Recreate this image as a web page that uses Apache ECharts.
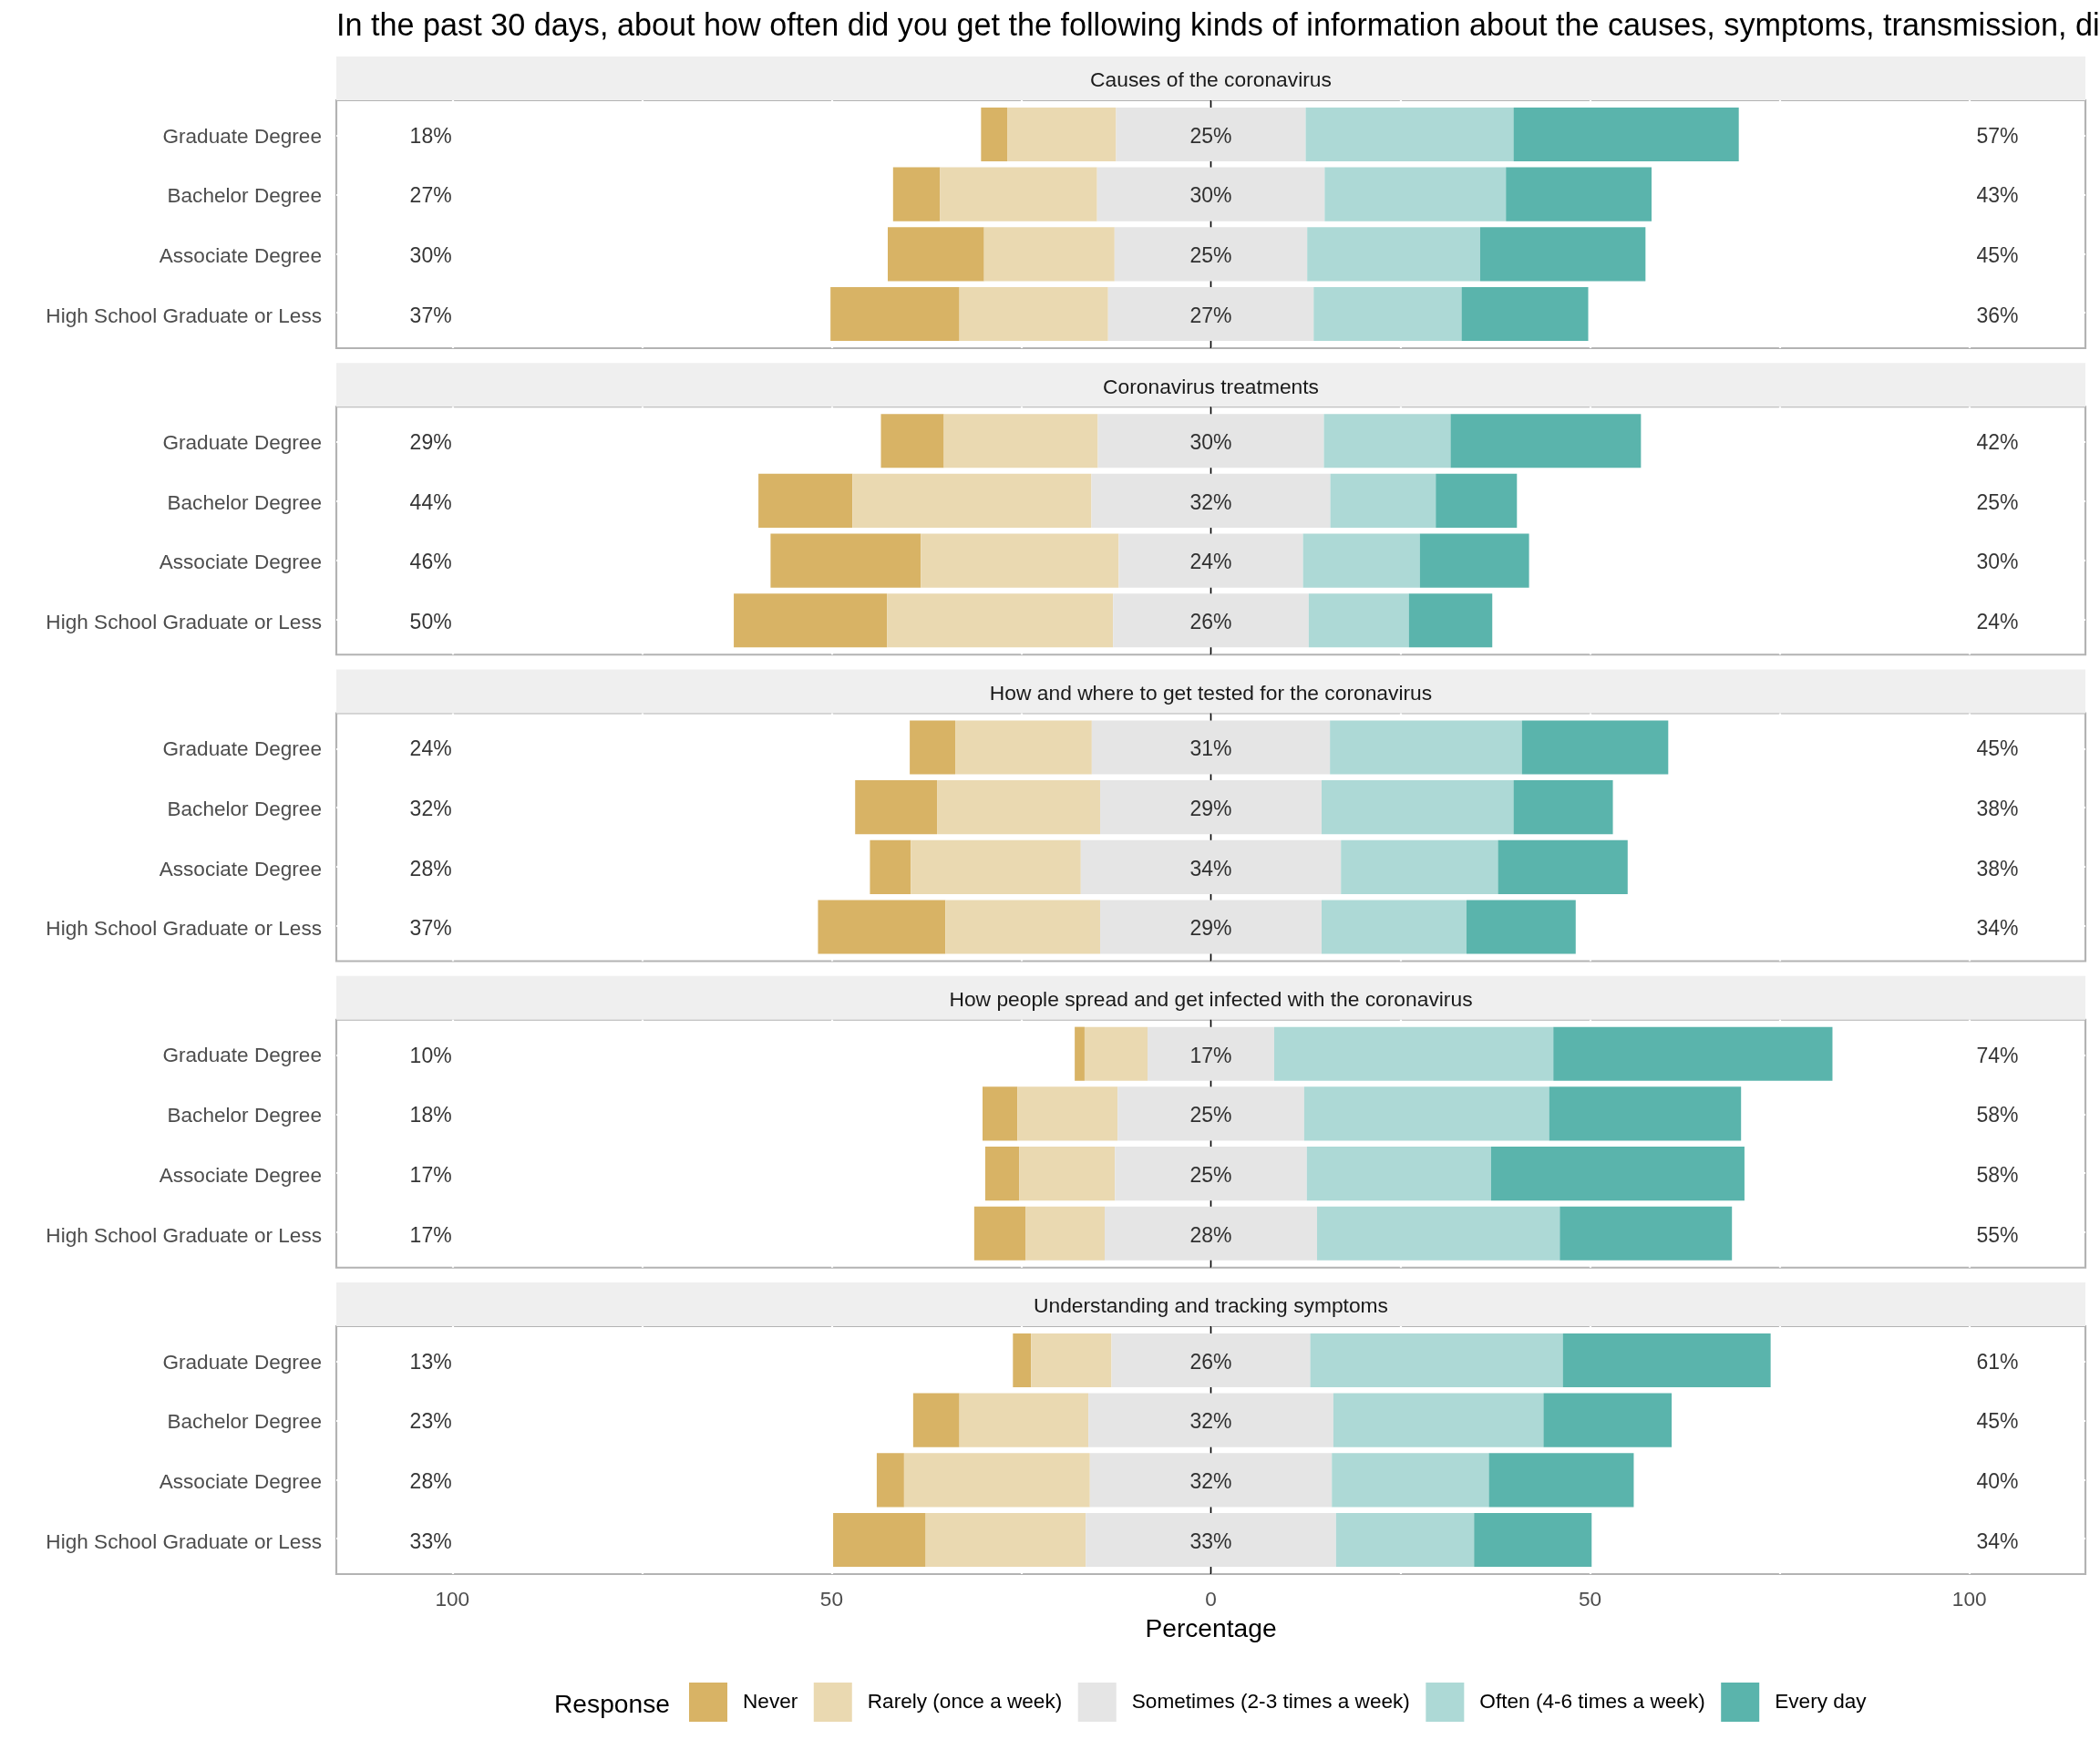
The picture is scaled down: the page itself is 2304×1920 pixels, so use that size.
<!DOCTYPE html>
<html>
<head>
<meta charset="utf-8">
<script src="https://cdn.jsdelivr.net/npm/echarts@6/dist/echarts.min.js"></script>
<style>
  html, body { margin: 0; padding: 0; background: #fff; }
  #chart { width: 2304px; height: 1920px; }
</style>
</head>
<body>
<div id="chart"></div>
<script>
// ---------------- data ----------------
const titleText = 'In the past 30 days, about how often did you get the following kinds of information about the causes, symptoms, transmission, diagnosis, and treatment of the coronavirus?';
const topics = [
  'Causes of the coronavirus',
  'Coronavirus treatments',
  'How and where to get tested for the coronavirus',
  'How people spread and get infected with the coronavirus',
  'Understanding and tracking symptoms'
];
const levels = ['Graduate Degree', 'Bachelor Degree', 'Associate Degree', 'High School Graduate or Less'];
const responses = ['Never', 'Rarely (once a week)', 'Sometimes (2-3 times a week)', 'Often (4-6 times a week)', 'Every day'];

// percentages per topic (rows = topics, columns = levels)
const never = [
  [3.5, 6.2, 12.7, 17.0],
  [8.3, 12.4, 19.8, 20.2],
  [6.0, 10.8, 5.4, 16.8],
  [1.3, 4.6, 4.5, 6.8],
  [2.4, 6.1, 3.6, 12.2]
];
const rarely = [
  [14.3, 20.7, 17.2, 19.6],
  [20.3, 31.5, 26.1, 29.8],
  [18.0, 21.5, 22.4, 20.4],
  [8.3, 13.2, 12.6, 10.4],
  [10.6, 17.0, 24.5, 21.1]
];
const sometimes = [
  [25.0, 30.0, 25.4, 27.1],
  [29.8, 31.5, 24.3, 25.8],
  [31.4, 29.2, 34.3, 29.2],
  [16.7, 24.6, 25.3, 28.0],
  [26.2, 32.3, 31.9, 33.0]
];
const often = [
  [27.4, 23.9, 22.8, 19.5],
  [16.7, 13.9, 15.4, 13.2],
  [25.3, 25.3, 20.7, 19.1],
  [36.8, 32.3, 24.3, 32.0],
  [33.3, 27.7, 20.7, 18.2]
];
const everyDay = [
  [29.7, 19.2, 21.8, 16.7],
  [25.1, 10.7, 14.4, 11.0],
  [19.3, 13.1, 17.1, 14.4],
  [36.8, 25.3, 33.4, 22.7],
  [27.4, 16.9, 19.1, 15.5]
];

// printed labels
const leftLabels = [
  [18, 27, 30, 37],
  [29, 44, 46, 50],
  [24, 32, 28, 37],
  [10, 18, 17, 17],
  [13, 23, 28, 33]
];
const midLabels = [
  [25, 30, 25, 27],
  [30, 32, 24, 26],
  [31, 29, 34, 29],
  [17, 25, 25, 28],
  [26, 32, 32, 33]
];
const rightLabels = [
  [57, 43, 45, 36],
  [42, 25, 30, 24],
  [45, 38, 38, 34],
  [74, 58, 58, 55],
  [61, 45, 40, 34]
];
const xTicks = [-100, -50, 0, 50, 100];

// ---------------- layout / style ----------------
const FONT = '"Liberation Sans", Arial, sans-serif';
const COLORS = ['#D8B365', '#EAD9B1', '#E5E5E5', '#ADD9D6', '#5AB4AC'];
const X_MIN = -115.3, X_MAX = 115.3;
const LEFT_LABEL_X = -102.85, RIGHT_LABEL_X = 103.7;
const GRID_LEFT = 369, GRID_W = 1919;
const PANEL_TOP0 = 110, PITCH = 336.25, PANEL_H = 272, STRIP_H = 48, INSET = 4.6;
const TXT_DY = 3;

const grids = [], xAxes = [], yAxes = [], series = [], graphics = [];

graphics.push({
  type: 'text', x: GRID_LEFT, y: 27 + TXT_DY, silent: true,
  style: { text: titleText, fill: '#000', font: '34.2px ' + FONT, align: 'left', verticalAlign: 'middle' }
});

for (let i = 0; i < topics.length; i++) {
  const top = PANEL_TOP0 + PITCH * i;
  const isLast = i === topics.length - 1;
  const fIdx = 2 * i, bIdx = 2 * i + 1;

  // frame grid
  grids.push({ left: GRID_LEFT, width: GRID_W, top: top, height: PANEL_H, show: true,
               borderColor: '#b3b3b3', borderWidth: 2.2, backgroundColor: '#fff' });
  // bar grid
  grids.push({ left: GRID_LEFT, width: GRID_W, top: top + INSET, height: PANEL_H - 2 * INSET, show: false });

  xAxes.push({
    type: 'value', gridIndex: fIdx, min: X_MIN, max: X_MAX, minInterval: 25, maxInterval: 25,
    axisLine: { show: false }, axisTick: { show: false },
    splitLine: { show: true, showMinLine: false, showMaxLine: false, lineStyle: { color: '#ffffff', width: 2.2 } },
    axisLabel: isLast ? {
      show: true, color: '#4d4d4d', fontSize: 22.6, fontFamily: FONT, margin: 14 + TXT_DY,
      showMinLabel: false, showMaxLabel: false,
      formatter: v => (xTicks.indexOf(Math.round(v * 1000) / 1000) >= 0 ? String(Math.abs(v)) : '')
    } : { show: false }
  });
  yAxes.push({
    type: 'value', gridIndex: fIdx, min: -0.6, max: 3.6, inverse: true, minInterval: 1, maxInterval: 1,
    axisLine: { show: false }, axisTick: { show: false }, axisLabel: { show: false },
    splitLine: { show: true, showMinLine: false, showMaxLine: false, lineStyle: { color: '#ffffff', width: 2.2 } }
  });
  xAxes.push({ type: 'value', gridIndex: bIdx, min: X_MIN, max: X_MAX, show: false, splitLine: { show: false } });
  yAxes.push({
    type: 'category', gridIndex: bIdx, data: levels, inverse: true,
    axisLine: { show: false }, axisTick: { show: false }, splitLine: { show: false },
    axisLabel: {
      margin: 16,
      formatter: v => '{l|' + v + '}',
      rich: { l: { color: '#4d4d4d', fontSize: 22.6, fontFamily: FONT, padding: [2 * TXT_DY, 0, 0, 0] } }
    }
  });

  // zero reference line, drawn underneath the bars
  series.push({
    type: 'line', xAxisIndex: fIdx, yAxisIndex: fIdx, z: 1, silent: true,
    symbol: 'none', lineStyle: { color: '#000', width: 1.6 },
    data: [[0, -0.6], [0, 3.6]]
  });

  // diverging stack: an invisible offset puts the middle of "Sometimes" on zero
  const stackId = 'stack' + i;
  const barBase = {
    type: 'bar', stack: stackId, stackStrategy: 'all', xAxisIndex: bIdx, yAxisIndex: bIdx,
    barWidth: '90%', silent: true, z: 4, emphasis: { disabled: true }
  };
  series.push(Object.assign({}, barBase, { name: 'offset', itemStyle: { color: 'rgba(0,0,0,0)' },
    data: levels.map((lv, j) => -(never[i][j] + rarely[i][j] + sometimes[i][j] / 2)) }));
  series.push(Object.assign({}, barBase, { name: responses[0], itemStyle: { color: COLORS[0] }, data: never[i].slice() }));
  series.push(Object.assign({}, barBase, { name: responses[1], itemStyle: { color: COLORS[1] }, data: rarely[i].slice() }));
  series.push(Object.assign({}, barBase, { name: responses[2], itemStyle: { color: COLORS[2] }, data: sometimes[i].slice() }));
  series.push(Object.assign({}, barBase, { name: responses[3], itemStyle: { color: COLORS[3] }, data: often[i].slice() }));
  series.push(Object.assign({}, barBase, { name: responses[4], itemStyle: { color: COLORS[4] }, data: everyDay[i].slice() }));

  // percentage labels
  const labelData = [];
  levels.forEach((lv, j) => {
    labelData.push([LEFT_LABEL_X, j, leftLabels[i][j] + '%']);
    labelData.push([0, j, midLabels[i][j] + '%']);
    labelData.push([RIGHT_LABEL_X, j, rightLabels[i][j] + '%']);
  });
  series.push({
    type: 'scatter', xAxisIndex: bIdx, yAxisIndex: bIdx, z: 6, silent: true,
    symbolSize: 1, itemStyle: { color: 'rgba(0,0,0,0)' },
    data: labelData,
    label: { show: true, position: 'inside', offset: [0, TXT_DY], formatter: p => p.value[2],
             color: '#000', fontSize: 23, fontFamily: FONT }
  });

  // strip
  graphics.push({
    type: 'rect', silent: true, z: 0,
    shape: { x: GRID_LEFT, y: top - STRIP_H, width: GRID_W, height: STRIP_H },
    style: { fill: '#efefef' }
  });
  graphics.push({
    type: 'text', silent: true, z: 1,
    x: GRID_LEFT + GRID_W / 2, y: top - STRIP_H / 2 + TXT_DY,
    style: { text: topics[i], fill: '#1a1a1a', font: '22.8px ' + FONT, align: 'center', verticalAlign: 'middle' }
  });
}

graphics.push({
  type: 'text', silent: true, x: GRID_LEFT + GRID_W / 2, y: 1785 + TXT_DY,
  style: { text: 'Percentage', fill: '#000', font: '28.2px ' + FONT, align: 'center', verticalAlign: 'middle' }
});
graphics.push({
  type: 'text', silent: true, x: 608, y: 1868 + TXT_DY,
  style: { text: 'Response', fill: '#000', font: '28.2px ' + FONT, align: 'left', verticalAlign: 'middle' }
});

const option = {
  animation: false,
  backgroundColor: '#fff',
  grid: grids,
  xAxis: xAxes,
  yAxis: yAxes,
  legend: {
    data: responses, left: 756, top: 1846, orient: 'horizontal', padding: 0,
    itemWidth: 42, itemHeight: 43, itemGap: 17.5, selectedMode: false, icon: 'rect',
    itemStyle: { borderWidth: 0 },
    textStyle: { color: '#000', fontSize: 22.6, fontFamily: FONT, padding: [0, 0, 0, 12] }
  },
  graphic: graphics,
  series: series
};

const chart = echarts.init(document.getElementById('chart'), null, { renderer: 'canvas' });
chart.setOption(option);
</script>
</body>
</html>
